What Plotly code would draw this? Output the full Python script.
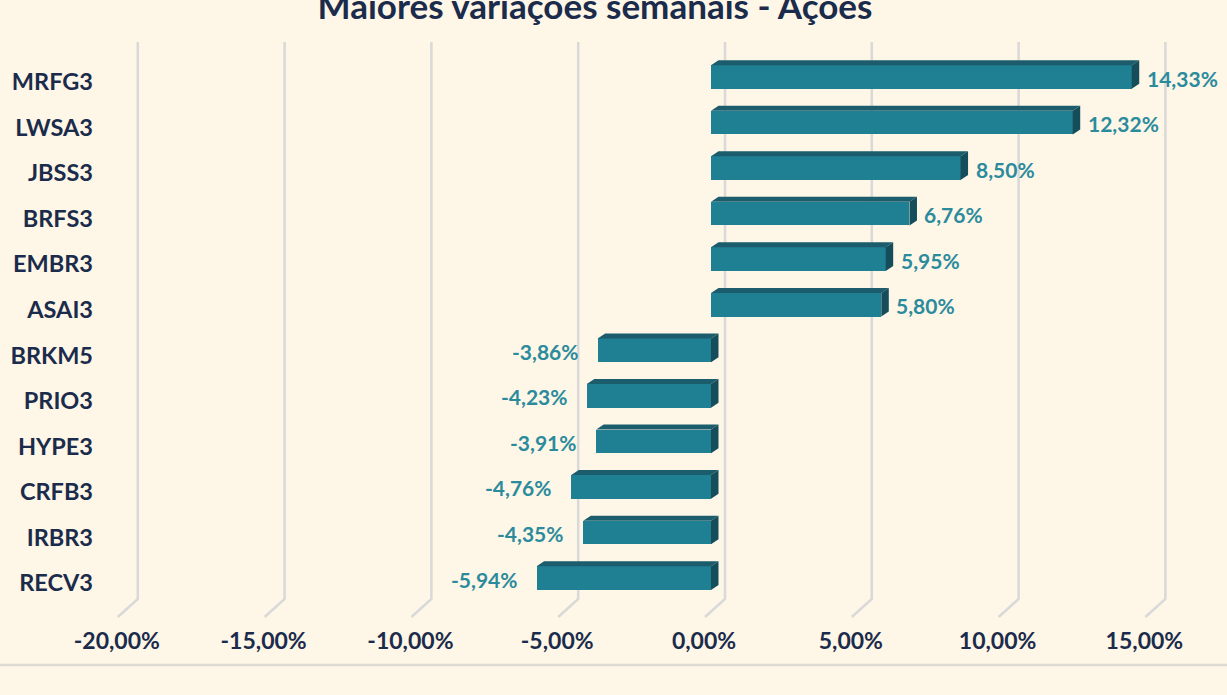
import plotly.graph_objects as go

# ---- data ----
categories = ["MRFG3", "LWSA3", "JBSS3", "BRFS3", "EMBR3", "ASAI3",
              "BRKM5", "PRIO3", "HYPE3", "CRFB3", "IRBR3", "RECV3"]
values = [14.33, 12.32, 8.50, 6.76, 5.95, 5.80,
          -3.86, -4.23, -3.91, -4.76, -4.35, -5.94]
tick_values = [-20, -15, -10, -5, 0, 5, 10, 15]
tick_labels = ["-20,00%", "-15,00%", "-10,00%", "-5,00%", "0,00%", "5,00%", "10,00%", "15,00%"]
title_text = "Maiores variações semanais - Ações"

# ---- styling / geometry ----
W, H = 1227, 695
BG = "#FEF6E6"
FRONT = "#1F7F93"
TOP = "#1B5D6C"
SIDE = "#164D5A"
LABEL = "#2A8B9D"
NAVY = "#1B2B4B"
GRID = "#D9D9D9"
FONT = "Lato"

px_per_x = 29.36
x0_px = 711.0
px_per_y = 45.55
ytop_px = 77.0
n = len(categories)

def xd(px):
    return (px - x0_px) / px_per_x

def yd(py):
    return (n - 1) - (py - ytop_px) / px_per_y

ypos = [n - 1 - i for i in range(n)]
bw = 0.52
dx = 7.5 / px_per_x
dy = 5.0 / px_per_y

fig = go.Figure()

# front faces
fig.add_trace(go.Bar(x=values, y=ypos, orientation="h", width=bw,
                     marker=dict(color=FRONT, line=dict(width=0)),
                     hoverinfo="skip", showlegend=False))

# top and side faces
tx, ty, sx, sy = [], [], [], []
for v, y in zip(values, ypos):
    a, b = min(0, v), max(0, v)
    yt, yb = y + bw / 2, y - bw / 2
    tx += [a, b, b + dx, a + dx, a, None]
    ty += [yt, yt, yt + dy, yt + dy, yt, None]
    sx += [b, b + dx, b + dx, b, b, None]
    sy += [yt, yt + dy, yb + dy, yb, yt, None]
fig.add_trace(go.Scatter(x=tx, y=ty, fill="toself", fillcolor=TOP, mode="lines",
                         line=dict(width=0, color=TOP), hoverinfo="skip", showlegend=False))
fig.add_trace(go.Scatter(x=sx, y=sy, fill="toself", fillcolor=SIDE, mode="lines",
                         line=dict(width=0, color=SIDE), hoverinfo="skip", showlegend=False))

# value labels
for v, y in zip(values, ypos):
    txt = f"{v:.2f}".replace(".", ",") + "%"
    fig.add_annotation(x=v, y=y, text=txt, showarrow=False,
                       xanchor="left" if v > 0 else "right",
                       xshift=13 if v > 0 else -17, yshift=-1,
                       font=dict(family=FONT, size=21, color=LABEL, weight="bold"))

# gridlines (back wall + floor diagonal)
back = 14.0 / px_per_x
floor_front = -6.0 / px_per_x
for t in tick_values:
    fig.add_shape(type="path", xref="x", yref="y", layer="below",
                  path=f"M {t + back} {yd(42)} L {t + back} {yd(599)} L {t + floor_front} {yd(617)}",
                  line=dict(color=GRID, width=2.5))

# bottom separator
fig.add_shape(type="line", xref="paper", yref="paper", x0=0, x1=1,
              y0=1 - 665 / H, y1=1 - 665 / H, line=dict(color="#DDDAD3", width=2.5))

fig.update_layout(
    width=W, height=H, autosize=False,
    margin=dict(l=0, r=0, t=0, b=0),
    paper_bgcolor=BG, plot_bgcolor=BG,
    title=dict(text=title_text, x=595 / W, xanchor="center", y=1 - 7 / H, yanchor="middle",
               font=dict(family=FONT, size=35, color=NAVY, weight="bold")),
    xaxis=dict(range=[xd(0), xd(W)], showgrid=False, zeroline=False, showline=False,
               tickvals=tick_values, ticktext=tick_labels, ticks="",
               anchor="free", position=1 - 625 / H, ticklabelshift=-7,
               tickfont=dict(family=FONT, size=23, color=NAVY, weight="bold"), fixedrange=True),
    yaxis=dict(range=[yd(H), yd(0)], showgrid=False, zeroline=False, showline=False,
               tickvals=ypos, ticktext=categories, ticks="",
               anchor="free", position=93 / W, ticklabelshift=5,
               tickfont=dict(family=FONT, size=23.5, color=NAVY, weight="bold"), fixedrange=True),
    bargap=0,
)

fig.write_html("out.html", config={"displayModeBar": False},
               post_script="document.body.style.margin='0';")
